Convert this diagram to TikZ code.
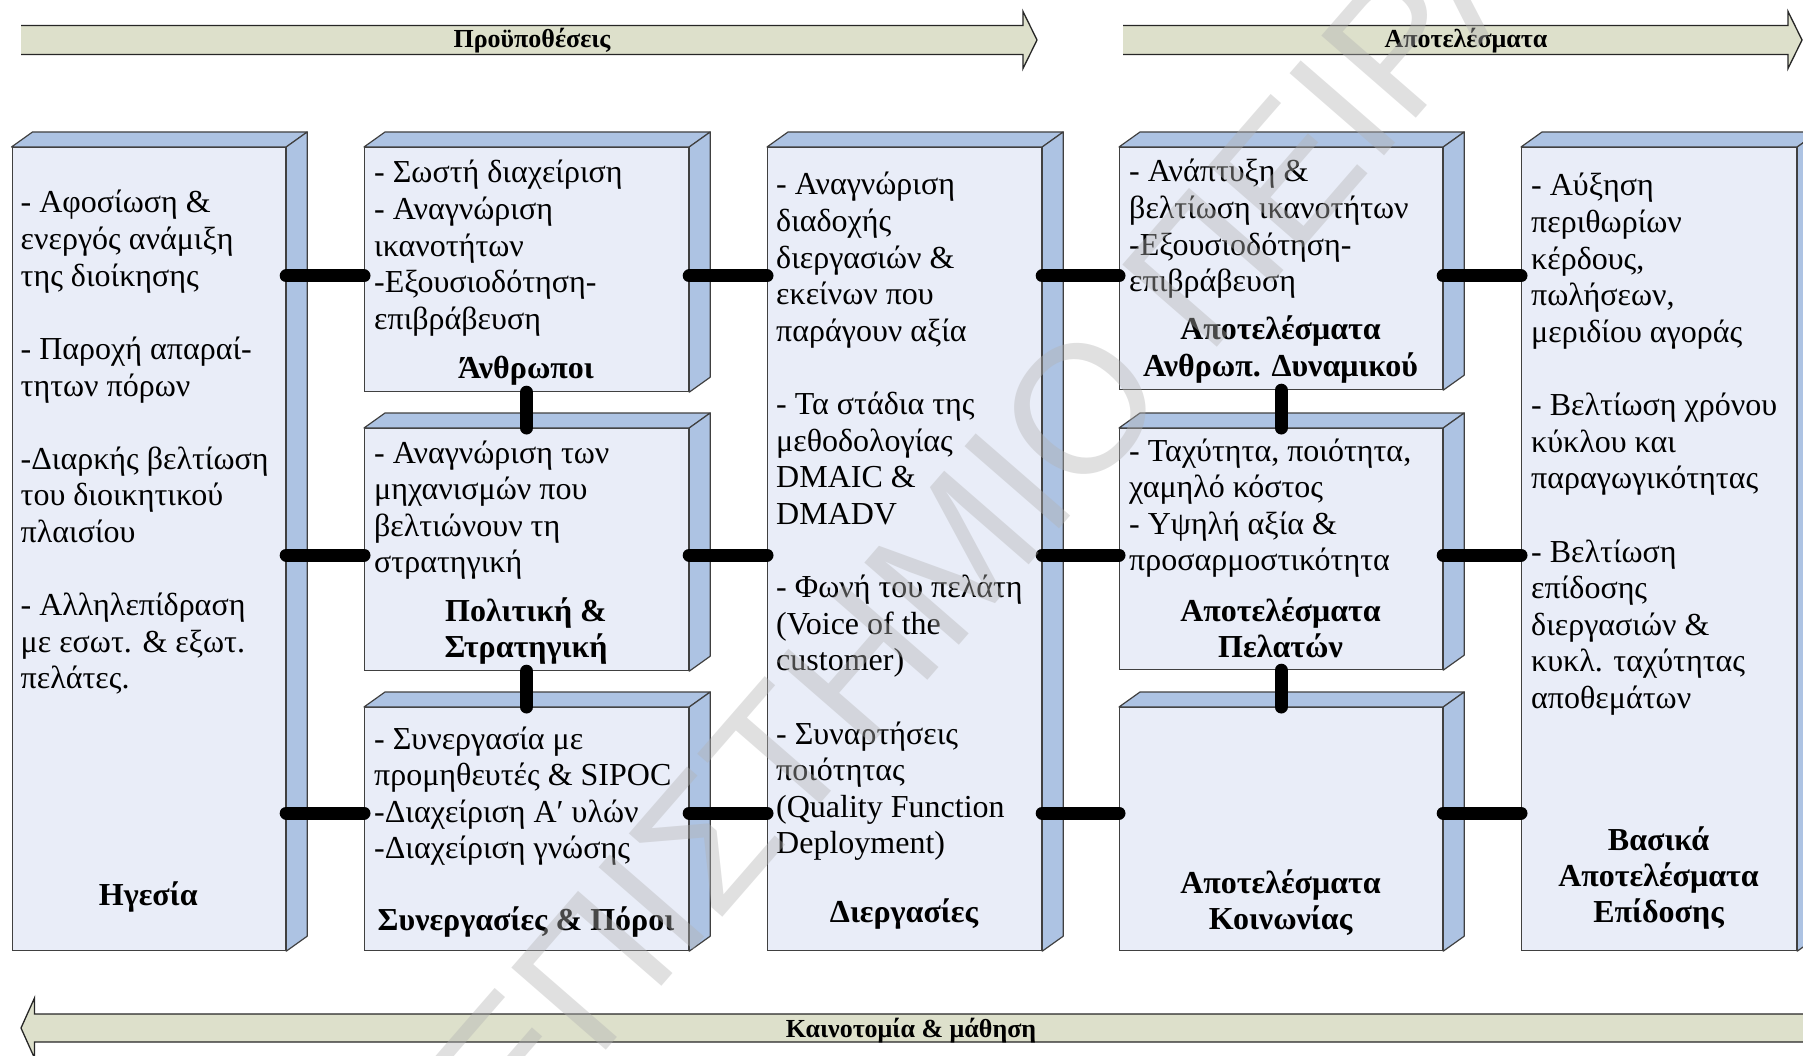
\documentclass[tikz,border=0pt]{standalone}
\usepackage{fontspec}
\setmainfont{Liberation Serif}
\newfontfamily\markfont{Liberation Sans}

\definecolor{facefill}{HTML}{E9EDF8}
\definecolor{sidefill}{HTML}{ADC3E3}
\definecolor{edgecol}{HTML}{404040}
\definecolor{barfill}{HTML}{DDE0CB}

\tikzset{
  front/.style={draw=edgecol, line width=1.2pt, fill=facefill, inner sep=0pt, anchor=north west},
  side/.style={draw=edgecol, line width=1.2pt, fill=sidefill, line join=round},
  body/.style={font=\fontsize{32}{36.6}\selectfont, inner sep=0pt, anchor=base west},
  lbl/.style={font=\bfseries\fontsize{32}{36.6}\selectfont, inner sep=0pt, anchor=base},
  conn/.style={line width=13pt, line cap=round},
  barbody/.style={fill=barfill},
  barline/.style={draw=black!85, line width=1.3pt, line join=miter},
  barlbl/.style={font=\bfseries\fontsize{26}{28}\selectfont, inner sep=0pt, anchor=base},
  wmtext/.style={font=\markfont\fontsize{182}{182}\selectfont, text=black!30, text opacity=0.4, inner sep=0pt}
}

% a front face with its top and right faces
\newcommand\solidbox[5]{%
  \node[front, minimum width=#4pt, minimum height=#5pt] (#1) at (#2,#3) {};
  \path[side] (#1.north west) -- ++(21,-15) -- ([shift={(21,-15)}]#1.north east) -- (#1.north east) -- cycle;
  \path[side] (#1.north east) -- ++(21,-15) -- ([shift={(21,-15)}]#1.south east) -- (#1.south east) -- cycle;
}
% left-aligned text lines, one baseline every 36.6pt
\newcommand\linesat[4]{%
  \foreach \txt [count=\k] in {#4}{%
    \ifx\txt\empty\else
      \node[body] (#1-\k) at (#2,{#3+(\k-1)*36.6}) {\txt};
    \fi}}
% centred bold heading lines
\newcommand\titleat[4]{%
  \foreach \txt [count=\k] in {#4}{%
    \node[lbl] (#1-\k) at (#2,{#3+(\k-1)*36.3}) {\txt};}}

\begin{document}
\begin{tikzpicture}[x=1pt, y=-1pt]
\useasboundingbox (0,0) rectangle (1803,1056);
\clip (0,0) rectangle (1803,1056);

% ---- banner arrows ----
\fill[barbody] (21,25.5) -- (1023,25.5) -- (1023,11.5) -- (1037,40) -- (1023,68.5) -- (1023,54.5) -- (21,54.5) -- cycle;
\draw[barline] (21,25.5) -- (1023,25.5) -- (1023,11.5) -- (1037,40) -- (1023,68.5) -- (1023,54.5) -- (21,54.5);
\node[barlbl] (pre) at (532,48) {Προϋποθέσεις};

\fill[barbody] (1123,25.5) -- (1788,25.5) -- (1788,11.5) -- (1802,40) -- (1788,68.5) -- (1788,54.5) -- (1123,54.5) -- cycle;
\draw[barline] (1123,25.5) -- (1788,25.5) -- (1788,11.5) -- (1802,40) -- (1788,68.5) -- (1788,54.5) -- (1123,54.5);
\node[barlbl] (res) at (1466,48) {Αποτελέσματα};

\fill[barbody] (1803,1014) -- (34.5,1014) -- (34.5,998) -- (21,1028) -- (34.5,1058) -- (34.5,1042) -- (1803,1042) -- cycle;
\draw[barline] (1803,1014) -- (34.5,1014) -- (34.5,998) -- (21,1028) -- (34.5,1058) -- (34.5,1042) -- (1803,1042);
\node[barlbl] (inn) at (911,1037) {Καινοτομία \& μάθηση};

% ---- blocks ----
\solidbox{b1}{11.5}{147}{273.5}{803}
\solidbox{b2a}{364}{147}{324}{244}
\solidbox{b2b}{364}{428}{324}{242}
\solidbox{b2c}{364}{707}{324}{243}
\solidbox{b3}{767}{147}{274}{803}
\solidbox{b4a}{1119}{147}{323}{242}
\solidbox{b4b}{1119}{428}{323}{241}
\solidbox{b4c}{1119}{707}{323}{243}
\solidbox{b5}{1521}{147}{275}{803}

% ---- block texts ----
\linesat{t1}{20.5}{213}{- Αφοσίωση \&, ενεργός ανάμιξη, της διοίκησης, , - Παροχή απαραί-, τητων πόρων, , -Διαρκής βελτίωση, του διοικητικού, πλαισίου, , - Αλληλεπίδραση, με εσωτ. \& εξωτ., πελάτες.}
\titleat{h1}{148.25}{905}{Ηγεσία}

\linesat{t2a}{374}{183}{- Σωστή διαχείριση, - Αναγνώριση, ικανοτήτων, -Εξουσιοδότηση-, επιβράβευση}
\titleat{h2a}{526}{378}{Άνθρωποι}

\linesat{t2b}{374}{463}{- Αναγνώριση των, μηχανισμών που, βελτιώνουν τη, στρατηγική}
\titleat{h2b}{526}{621}{Πολιτική \&, Στρατηγική}

\linesat{t2c}{374}{749}{- Συνεργασία με, προμηθευτές \& SIPOC, -Διαχείριση Α′ υλών, -Διαχείριση γνώσης}
\titleat{h2c}{526}{930}{Συνεργασίες \& Πόροι}

\linesat{t3}{776}{195}{- Αναγνώριση, διαδοχής, διεργασιών \&, εκείνων που, παράγουν αξία, , - Τα στάδια της, μεθοδολογίας, DMAIC \&, DMADV, , - Φωνή του πελάτη, {\relax(Voice of the}, {customer)}, , - Συναρτήσεις, ποιότητας, {\relax(Quality Function}, {Deployment)}}
\titleat{h3}{904}{922}{Διεργασίες}

\linesat{t4a}{1129}{182}{- Ανάπτυξη \&, βελτίωση ικανοτήτων, -Εξουσιοδότηση-, επιβράβευση}
\titleat{h4a}{1280.5}{340}{Αποτελέσματα, Ανθρωπ. Δυναμικού}

\linesat{t4b}{1129}{461}{{- Ταχύτητα, ποιότητα,}, χαμηλό κόστος, - Υψηλή αξία \&, προσαρμοστικότητα}
\titleat{h4b}{1280.5}{621}{Αποτελέσματα, Πελατών}

\titleat{h4c}{1280.5}{893}{Αποτελέσματα, Κοινωνίας}

\linesat{t5}{1531}{196}{- Αύξηση, περιθωρίων, {κέρδους,}, {πωλήσεων,}, μεριδίου αγοράς, , - Βελτίωση χρόνου, κύκλου και, παραγωγικότητας, , - Βελτίωση, επίδοσης, διεργασιών \&, κυκλ. ταχύτητας, αποθεμάτων}
\titleat{h5}{1658.5}{850}{Βασικά, Αποτελέσματα, Επίδοσης}

% ---- links ----
\coordinate (r1) at (0,276);
\coordinate (r2) at (0,555);
\coordinate (r3) at (0,813);
\draw[conn] (b1.east |- r1) -- (b2a.west |- r1);
\draw[conn] (b2a.east |- r1) -- (b3.west |- r1);
\draw[conn] (b3.east |- r1) -- (b4a.west |- r1);
\draw[conn] (b4a.east |- r1) -- (b5.west |- r1);
\draw[conn] (b1.east |- r2) -- (b2b.west |- r2);
\draw[conn] (b2b.east |- r2) -- (b3.west |- r2);
\draw[conn] (b3.east |- r2) -- (b4b.west |- r2);
\draw[conn] (b4b.east |- r2) -- (b5.west |- r2);
\draw[conn] (b1.east |- r3) -- (b2c.west |- r3);
\draw[conn] (b2c.east |- r3) -- (b3.west |- r3);
\draw[conn] (b3.east |- r3) -- (b4c.west |- r3);
\draw[conn] (b4c.east |- r3) -- (b5.west |- r3);
\draw[conn] (b2a.south) -- (b2b.north);
\draw[conn] (b2b.south) -- (b2c.north);
\draw[conn] (b4a.south) -- (b4b.north);
\draw[conn] (b4b.south) -- (b4c.north);

% ---- watermark ----
\node[wmtext, rotate=49] (wm) at (962,546) {ΠΑΝΕΠΙΣΤΗΜΙΟ ΠΕΙΡΑΙΩΣ};
\end{tikzpicture}
\end{document}
